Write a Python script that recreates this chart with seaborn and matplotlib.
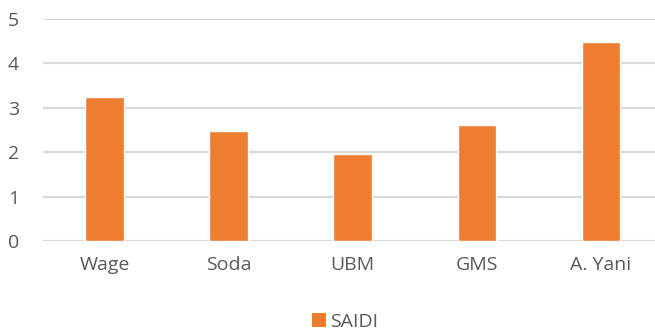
import matplotlib
matplotlib.use("Agg")
import matplotlib.pyplot as plt
import seaborn as sns
import pandas as pd
from matplotlib.patches import Patch

# SAIDI per feeder
feeders = ["Wage", "Soda", "UBM", "GMS", "A. Yani"]
saidi = [3.25, 2.47, 1.96, 2.61, 4.47]
series_name = "SAIDI"
y_ticks = [0, 1, 2, 3, 4, 5]

bar_color = "#ED7D31"
text_color = "#595959"
grid_color = "#D9D9D9"

sns.set_style("white")
plt.rcParams["font.family"] = ["Open Sans", "DejaVu Sans"]

df = pd.DataFrame({"feeder": feeders, "value": saidi})

fig = plt.figure(figsize=(6.55, 3.32), dpi=100)
ax = fig.add_axes([0.065, 0.274, 0.947, 0.669])

sns.barplot(data=df, x="feeder", y="value", color=bar_color, width=0.31,
            saturation=1, ax=ax, zorder=3)

ax.set_ylim(0, 5)
ax.set_yticks(y_ticks)
ax.set_xlim(-0.5, len(feeders) - 0.5)
ax.yaxis.grid(True, color=grid_color, linewidth=1.6, zorder=0)
ax.set_axisbelow(True)
for s in ax.spines.values():
    s.set_visible(False)
ax.tick_params(axis="both", length=0, labelsize=14, colors=text_color)
ax.tick_params(axis="y", pad=17)
ax.tick_params(axis="x", pad=11)
ax.set_xlabel("")
ax.set_ylabel("")

handle = Patch(facecolor=bar_color, edgecolor="none", label=series_name)
fig.legend(handles=[handle], loc="center", bbox_to_anchor=(0.527, 0.03),
           frameon=False, fontsize=14, labelcolor=text_color,
           handlelength=0.75, handleheight=0.75, handletextpad=0.2)

fig.savefig("out.png", dpi=100)
